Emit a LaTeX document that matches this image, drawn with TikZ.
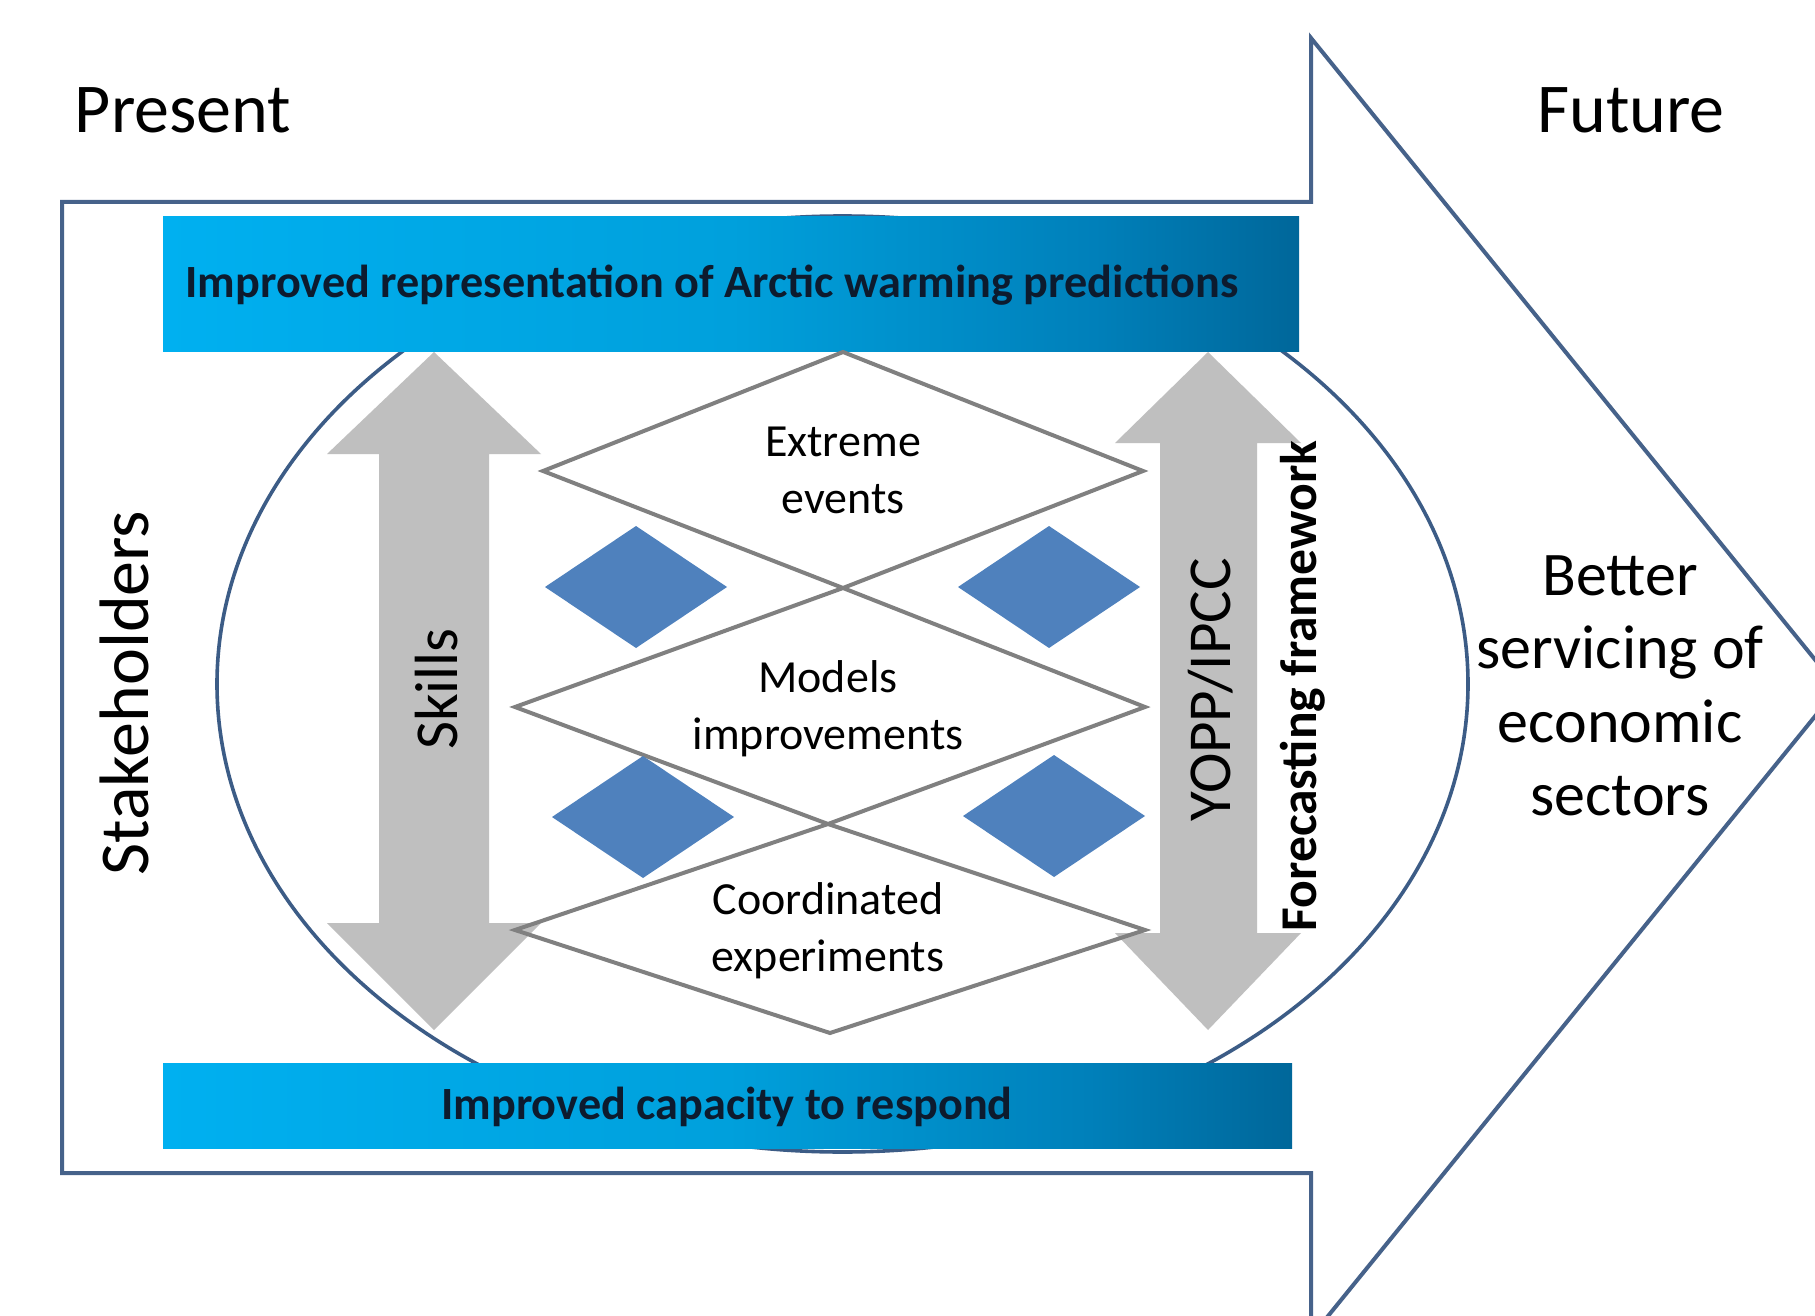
\documentclass[tikz,border=0pt]{standalone}
\usepackage{fontspec}
\setmainfont{Carlito}

\definecolor{framecol}{HTML}{46628A}
\definecolor{ringcol}{HTML}{3C5C86}
\definecolor{arrowgrey}{HTML}{BFBFBF}
\definecolor{diagrey}{HTML}{808080}
\definecolor{gemblue}{HTML}{4F81BD}
\definecolor{bartxt}{HTML}{0D1B2E}
\definecolor{barA}{HTML}{00B0F0}
\definecolor{barB}{HTML}{00A0DC}
\definecolor{barC}{HTML}{0080BA}
\definecolor{barD}{HTML}{00679A}

\pgfdeclarehorizontalshading{bandshade}{100bp}{color(0bp)=(barA); color(25bp)=(barA); color(50bp)=(barB); color(66bp)=(barC); color(75bp)=(barD); color(100bp)=(barD)}

\begin{document}
\begin{tikzpicture}[x=0.5pt, y=-0.5pt,
  outline/.style={draw=framecol, line width=2pt, line join=miter},
  band/.style={shading=bandshade},
  bandtext/.style={font=\fontsize{23.1}{28}\selectfont\bfseries, text=bartxt, anchor=base, inner sep=0pt},
  greyarrow/.style={fill=arrowgrey},
  rhomb/.style={draw=diagrey, line width=2pt, line join=miter},
  gem/.style={fill=gemblue},
  bigtext/.style={font=\fontsize{35}{42}\selectfont, inner sep=0pt},
  midtext/.style={font=\fontsize{30.5}{36.7}\selectfont, inner sep=0pt, align=center},
  smalltext/.style={font=\fontsize{23}{28.5}\selectfont, inner sep=0pt, align=center}]

\useasboundingbox (0,0) rectangle (1815,1316);
\clip (0,0) rectangle (1815,1316);

\draw[outline, fill=white] (62,202) -- (1311,202) -- (1311,38) -- (1838,688) -- (1311,1337) -- (1311,1173) -- (62,1173) -- cycle;

\draw[draw=ringcol, line width=1.8pt, fill=white] (842.5,684) ellipse [x radius=312.75pt, y radius=234pt];

\path[band] (163,217) rectangle (1299,351);
\path[band] (163,1063) rectangle (1292,1148);

\fill[greyarrow] (434,352) -- (541,454) -- (489,454) -- (489,923) -- (541,923) -- (434,1030) -- (327,923) -- (379,923) -- (379,454) -- (327,454) -- cycle;
\fill[greyarrow] (1208,352) -- (1301,443) -- (1257,443) -- (1257,933) -- (1301,933) -- (1208,1030) -- (1115,933) -- (1160,933) -- (1160,443) -- (1115,443) -- cycle;

\draw[rhomb] (843,352) -- (1143,471) -- (843,588) -- (543,471) -- cycle;
\draw[rhomb] (843,588) -- (1145,707) -- (828,824) -- (515,707) -- cycle;
\draw[rhomb] (828,824) -- (1145,930) -- (830,1033) -- (515,930) -- cycle;

\fill[gem] (545,587) -- (636,526) -- (727,587) -- (636,648) -- cycle;
\fill[gem] (958,587) -- (1049,526) -- (1140,587) -- (1049,648) -- cycle;
\fill[gem] (552,817) -- (643,756) -- (734,817) -- (643,878) -- cycle;
\fill[gem] (963,816) -- (1054,755) -- (1145,816) -- (1054,877) -- cycle;

\node[bigtext, anchor=base] (present) at (183,133) {Present};
\node[bigtext, anchor=base] (future) at (1631,133) {Future};
\node[bigtext, anchor=base, rotate=90] (stake) at (148,693) {Stakeholders};

\node[bandtext] (warm) at (712,298) {Improved representation of Arctic warming predictions};
\node[bandtext] (resp) at (727,1119) {Improved capacity to respond};

\node[midtext, anchor=base, rotate=90] (skills) at (457,689) {Skills};
\node[midtext, anchor=base, rotate=90] (yopp) at (1230,690) {YOPP/IPCC};
\node[font=\fontsize{25.8}{30}\selectfont\bfseries, inner sep=0pt, anchor=base, rotate=90] (frame) at (1316,686) {Forecasting framework};

\node[smalltext] (ext) at (843,470) {Extreme\\events};
\node[smalltext] (mod) at (828,709) {Models\\improvements};
\node[smalltext] (coo) at (828,931) {Coordinated\\experiments};

\node[font=\fontsize{31}{36.7}\selectfont, inner sep=0pt, align=center] (better) at (1620,686) {Better\\servicing of\\economic\\sectors};
\end{tikzpicture}
\end{document}
